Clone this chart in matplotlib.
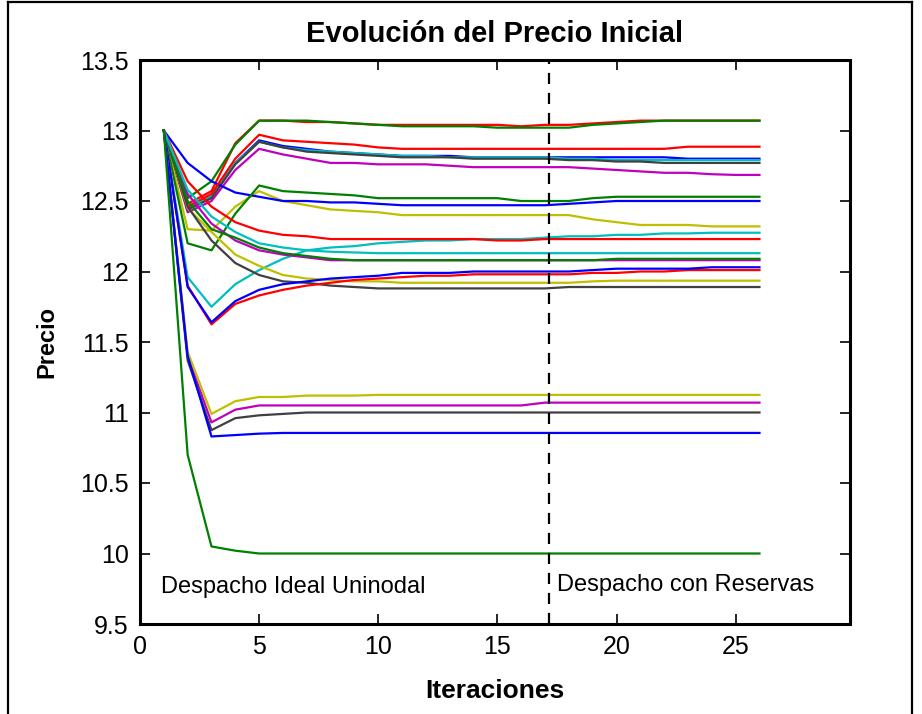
import matplotlib
matplotlib.use("Agg")
import matplotlib.pyplot as plt
from matplotlib.lines import Line2D
import numpy as np

iteraciones = np.arange(1, 27)

# precio por nodo (26 iteraciones)
verde_a = [13, 12.52, 12.64, 12.90, 13.07, 13.07, 13.07, 13.06, 13.05, 13.04, 13.03, 13.03, 13.03,
           13.03, 13.02, 13.02, 13.02, 13.02, 13.04, 13.05, 13.06, 13.07, 13.07, 13.07, 13.07, 13.07]
rojo_b = [13, 12.48, 12.57, 12.91, 13.07, 13.07, 13.06, 13.06, 13.05, 13.04, 13.04, 13.04, 13.04,
          13.04, 13.04, 13.03, 13.04, 13.04, 13.05, 13.06, 13.07, 13.07, 13.07, 13.07, 13.07, 13.07]
rojo_c = [13, 12.46, 12.55, 12.80, 12.97, 12.93, 12.92, 12.91, 12.90, 12.88, 12.87, 12.87, 12.87,
          12.87, 12.87, 12.87, 12.87, 12.87, 12.87, 12.87, 12.87, 12.87, 12.885, 12.885, 12.885, 12.885]
azul_d = [13, 12.45, 12.53, 12.77, 12.93, 12.89, 12.87, 12.85, 12.84, 12.83, 12.82, 12.82, 12.82,
          12.81, 12.81, 12.81, 12.81, 12.81, 12.81, 12.81, 12.81, 12.81, 12.80, 12.80, 12.80, 12.80]
gris_e = [13, 12.44, 12.52, 12.76, 12.92, 12.88, 12.85, 12.84, 12.83, 12.82, 12.81, 12.81, 12.81,
          12.80, 12.80, 12.80, 12.80, 12.79, 12.79, 12.78, 12.78, 12.77, 12.77, 12.77, 12.77, 12.77]
cian_f = [13, 12.45, 12.53, 12.77, 12.92, 12.88, 12.86, 12.85, 12.84, 12.83, 12.82, 12.82, 12.81,
          12.81, 12.81, 12.81, 12.81, 12.80, 12.80, 12.79, 12.79, 12.79, 12.79, 12.79, 12.79, 12.79]
magenta_g = [13, 12.42, 12.50, 12.72, 12.87, 12.83, 12.80, 12.77, 12.77, 12.76, 12.76, 12.76, 12.75,
             12.74, 12.74, 12.74, 12.74, 12.74, 12.73, 12.72, 12.71, 12.70, 12.70, 12.69, 12.685, 12.685]
verde_h = [13, 12.20, 12.15, 12.41, 12.61, 12.57, 12.56, 12.55, 12.54, 12.52, 12.52, 12.52, 12.52,
           12.52, 12.52, 12.50, 12.50, 12.50, 12.52, 12.53, 12.53, 12.53, 12.53, 12.53, 12.53, 12.53]
azul_i = [13, 12.77, 12.64, 12.56, 12.53, 12.50, 12.50, 12.49, 12.49, 12.48, 12.47, 12.47, 12.47,
          12.47, 12.47, 12.47, 12.47, 12.48, 12.49, 12.50, 12.50, 12.50, 12.50, 12.50, 12.50, 12.50]
amarillo_j = [13, 12.30, 12.29, 12.46, 12.57, 12.50, 12.47, 12.44, 12.43, 12.42, 12.40, 12.40, 12.40,
              12.40, 12.40, 12.40, 12.40, 12.40, 12.37, 12.35, 12.33, 12.33, 12.33, 12.32, 12.32, 12.32]
rojo_k = [13, 12.64, 12.46, 12.35, 12.29, 12.26, 12.25, 12.23, 12.23, 12.23, 12.23, 12.23, 12.23,
          12.23, 12.22, 12.22, 12.23, 12.23, 12.23, 12.23, 12.23, 12.23, 12.23, 12.23, 12.23, 12.23]
cian_l = [13, 11.96, 11.75, 11.91, 12.01, 12.09, 12.15, 12.17, 12.18, 12.20, 12.21, 12.22, 12.22,
          12.23, 12.23, 12.23, 12.24, 12.25, 12.25, 12.26, 12.26, 12.27, 12.27, 12.275, 12.275, 12.275]
cian_m = [13, 12.58, 12.39, 12.28, 12.20, 12.17, 12.15, 12.14, 12.135, 12.13, 12.13, 12.13, 12.13,
          12.13, 12.13, 12.13, 12.13, 12.13, 12.13, 12.13, 12.13, 12.13, 12.13, 12.13, 12.13, 12.13]
magenta_n = [13, 12.55, 12.34, 12.22, 12.15, 12.12, 12.10, 12.08, 12.08, 12.08, 12.08, 12.08, 12.08,
             12.08, 12.08, 12.08, 12.08, 12.08, 12.08, 12.08, 12.08, 12.08, 12.08, 12.08, 12.08, 12.08]
verde_o = [13, 12.50, 12.30, 12.24, 12.17, 12.13, 12.11, 12.09, 12.08, 12.08, 12.08, 12.08, 12.08,
           12.08, 12.08, 12.08, 12.08, 12.08, 12.08, 12.09, 12.09, 12.09, 12.09, 12.09, 12.09, 12.09]
gris_p = [13, 12.46, 12.22, 12.06, 11.975, 11.93, 11.92, 11.90, 11.89, 11.88, 11.88, 11.88, 11.88,
          11.88, 11.88, 11.88, 11.88, 11.89, 11.89, 11.89, 11.89, 11.89, 11.89, 11.89, 11.89, 11.89]
amarillo_q = [13, 12.45, 12.28, 12.12, 12.04, 11.975, 11.95, 11.94, 11.93, 11.93, 11.92, 11.92, 11.92,
              11.92, 11.92, 11.92, 11.92, 11.92, 11.93, 11.935, 11.935, 11.935, 11.935, 11.935, 11.935, 11.935]
azul_r = [13, 11.89, 11.64, 11.79, 11.87, 11.91, 11.93, 11.95, 11.96, 11.97, 11.99, 11.99, 11.99,
          12.00, 12.00, 12.00, 12.00, 12.00, 12.01, 12.02, 12.02, 12.02, 12.02, 12.03, 12.03, 12.03]
rojo_s = [13, 11.90, 11.625, 11.77, 11.83, 11.87, 11.90, 11.92, 11.94, 11.95, 11.96, 11.97, 11.97,
          11.98, 11.98, 11.98, 11.98, 11.98, 11.99, 11.99, 12.00, 12.00, 12.01, 12.01, 12.01, 12.01]
amarillo_t = [13, 11.43, 10.99, 11.08, 11.11, 11.11, 11.12, 11.12, 11.12, 11.125, 11.125, 11.125, 11.125,
              11.125, 11.125, 11.125, 11.125, 11.125, 11.125, 11.125, 11.125, 11.125, 11.125, 11.125, 11.125, 11.125]
magenta_u = [13, 11.40, 10.93, 11.02, 11.05, 11.05, 11.05, 11.05, 11.05, 11.05, 11.05, 11.05, 11.05,
             11.05, 11.05, 11.05, 11.07, 11.07, 11.07, 11.07, 11.07, 11.07, 11.07, 11.07, 11.07, 11.07]
gris_v = [13, 11.37, 10.875, 10.96, 10.98, 10.99, 11.00, 11.00, 11.00, 11.00, 11.00, 11.00, 11.00,
          11.00, 11.00, 11.00, 11.00, 11.00, 11.00, 11.00, 11.00, 11.00, 11.00, 11.00, 11.00, 11.00]
azul_w = [13, 11.40, 10.83, 10.84, 10.85, 10.855, 10.855, 10.855, 10.855, 10.855, 10.855, 10.855, 10.855,
          10.855, 10.855, 10.855, 10.855, 10.855, 10.855, 10.855, 10.855, 10.855, 10.855, 10.855, 10.855, 10.855]
verde_x = [13, 10.70, 10.05, 10.02, 10.00, 10.00, 10.00, 10.00, 10.00, 10.00, 10.00, 10.00, 10.00,
           10.00, 10.00, 10.00, 10.00, 10.00, 10.00, 10.00, 10.00, 10.00, 10.00, 10.00, 10.00, 10.00]

iter_reservas = 17.15
xticks = [0, 5, 10, 15, 20, 25]
yticks = [9.5, 10, 10.5, 11, 11.5, 12, 12.5, 13, 13.5]

# colores de matlab
azul, verde, rojo = (0, 0, 1), (0, 0.5, 0), (1, 0, 0)
cian, magenta, amarillo, gris = (0, 0.75, 0.75), (0.75, 0, 0.75), (0.75, 0.75, 0), (0.25, 0.25, 0.25)

series = [
    (azul_d, azul), (rojo_b, rojo), (verde_a, verde), (cian_f, cian), (magenta_g, magenta),
    (amarillo_j, amarillo), (gris_e, gris),
    (azul_i, azul), (verde_h, verde), (rojo_c, rojo), (cian_l, cian), (magenta_n, magenta),
    (amarillo_q, amarillo), (gris_p, gris),
    (rojo_s, rojo), (azul_r, azul), (verde_o, verde), (rojo_k, rojo), (cian_m, cian),
    (magenta_u, magenta), (amarillo_t, amarillo), (gris_v, gris),
    (azul_w, azul), (verde_x, verde),
]

plt.rcParams["font.family"] = ["Liberation Sans", "DejaVu Sans"]

fig = plt.figure(figsize=(9.22, 7.14), dpi=100)
ax = fig.add_axes([140 / 922, 1 - 624 / 714, 710 / 922, 564 / 714])

for valores, color in series:
    ax.plot(iteraciones, valores, color=color, lw=1.6)

ax.axvline(iter_reservas, color="black", ls=(0, (5, 4)), lw=1.6)

ax.text(0.9, 9.76, "Despacho Ideal Uninodal", fontsize=17, va="center")
ax.text(17.5, 9.78, "Despacho con Reservas", fontsize=17, va="center")

ax.set_xlim(0, 29.8)
ax.set_ylim(9.5, 13.5)
ax.set_xticks(xticks)
ax.set_yticks(yticks)
ax.set_yticklabels(["9.5", "10", "10.5", "11", "11.5", "12", "12.5", "13", "13.5"])
ax.tick_params(direction="in", top=True, right=True, length=7, width=1.2, labelsize=18, pad=8)
for s in ax.spines.values():
    s.set_linewidth(2.2)

ax.set_title("Evolución del Precio Inicial", fontsize=21, fontweight="bold", pad=13)
ax.set_xlabel("Iteraciones", fontsize=19, fontweight="bold", labelpad=14)
ax.set_ylabel("Precio", fontsize=17, fontweight="bold", labelpad=16)

# marco de la figura
borde = dict(color="black", lw=1.6, transform=fig.transFigure)
fig.add_artist(Line2D([8 / 922, 8 / 922], [0, 1 - 2 / 714], **borde))
fig.add_artist(Line2D([8 / 922, 912 / 922], [1 - 2 / 714, 1 - 2 / 714], **borde))
fig.add_artist(Line2D([912 / 922, 912 / 922], [0, 1 - 2 / 714], **borde))

fig.savefig("out.png", dpi=100)
